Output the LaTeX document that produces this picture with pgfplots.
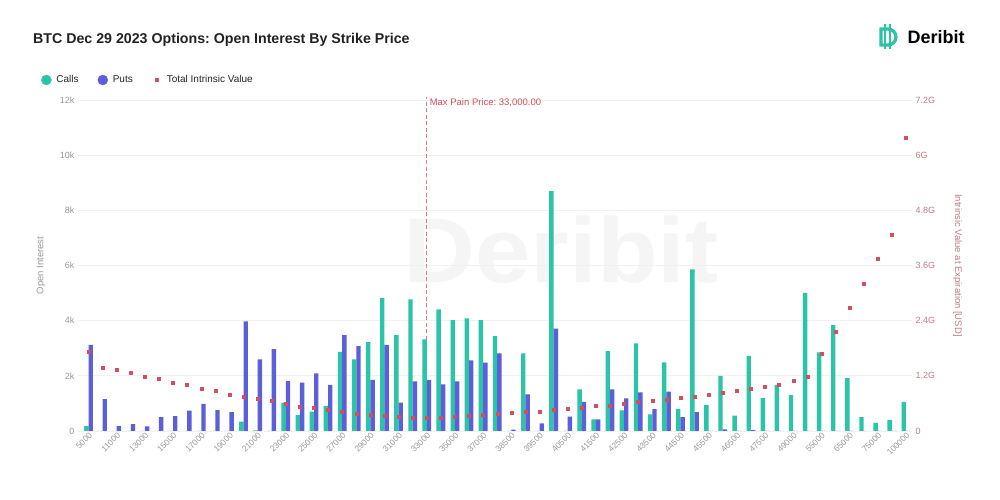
\documentclass[border=0pt]{standalone}
\usepackage{fontspec}
\setmainfont{Liberation Sans}
\usepackage{pgfplots}
\pgfplotsset{compat=1.18}
\usepackage{pgfplotstable}
\definecolor{callc}{HTML}{2BC4A6}
\definecolor{putc}{HTML}{5B5FDA}
\definecolor{ivc}{HTML}{D24F5E}
\definecolor{painc}{HTML}{E07A80}
\definecolor{tickc}{HTML}{9A9A9A}
\definecolor{rtickc}{HTML}{C47B86}
\definecolor{gridc}{HTML}{F1F1F1}
\definecolor{titlec}{HTML}{222222}

\pgfplotstableread{
idx strike calls puts iv
0 5000 180 3120 1.73
1 10000 0 1160 1.38
2 11000 0 180 1.33
3 12000 0 250 1.26
4 13000 0 170 1.19
5 14000 0 500 1.13
6 15000 0 540 1.06
7 16000 0 740 1.01
8 17000 0 980 0.93
9 18000 0 760 0.88
10 19000 0 680 0.80
11 20000 340 3970 0.75
12 21000 20 2600 0.70
13 22000 0 2970 0.65
14 23000 1030 1810 0.59
15 24000 580 1750 0.53
16 25000 700 2090 0.50
17 26000 910 1670 0.46
18 27000 2870 3480 0.43
19 28000 2600 3080 0.38
20 29000 3220 1850 0.35
21 30000 4830 3120 0.34
22 31000 3480 1030 0.31
23 32000 4770 1800 0.30
24 33000 3320 1850 0.29
25 34000 4410 1690 0.29
26 35000 4020 1800 0.31
27 36000 4080 2560 0.34
28 37000 4020 2480 0.36
29 38000 3440 2810 0.38
30 38500 0 50 0.39
31 39000 2810 1330 0.41
32 39500 0 280 0.43
33 40000 8700 3710 0.46
34 40500 0 520 0.48
35 41000 1510 1060 0.50
36 41500 420 420 0.54
37 42000 2900 1510 0.55
38 42500 750 1180 0.59
39 43000 3180 1400 0.63
40 43500 600 790 0.65
41 44000 2490 1430 0.68
42 44500 800 500 0.72
43 45000 5860 680 0.75
44 45500 950 0 0.80
45 46000 2000 60 0.84
46 46500 560 0 0.88
47 47000 2720 30 0.92
48 47500 1200 0 0.96
49 48000 1670 0 1.01
50 49000 1300 0 1.09
51 50000 5010 0 1.19
52 55000 2850 0 1.68
53 60000 3840 0 2.17
54 65000 1920 0 2.69
55 70000 500 0 3.20
56 75000 290 0 3.74
57 80000 400 0 4.27
58 100000 1060 0 6.39
}\datatable

\begin{document}
\frenchspacing
\begin{tikzpicture}[x=1pt,y=1pt]
\fill[white] (0,0) rectangle (1000,500);
\path[use as bounding box] (0,0) rectangle (1000,500);
% watermark
\node[anchor=west, text=black!4, font=\fontsize{92}{92}\selectfont\bfseries, xscale=1.08] at (400,250) {Deribit};
% title
\node[anchor=west, inner sep=0pt, text=titlec, font=\fontsize{14.2}{17}\selectfont\bfseries] at (33,460) {BTC Dec 29 2023 Options: Open Interest By Strike Price};
% logo
\draw[callc, line width=3.2pt] (881,471) -- (888,471) arc (90:-90:8) -- (881,455) -- cycle;
\draw[callc, line width=2.4pt] (885,476) -- (885,451);
\draw[callc, line width=2.4pt] (890,476) -- (890,451);
\node[anchor=west, text=black, font=\fontsize{18}{20}\selectfont\bfseries] at (904,462.5) {Deribit};

\begin{axis}[
  at={(78pt,69pt)}, anchor=south west,
  scale only axis, width=834pt, height=331pt,
  xmin=-0.745, xmax=58.43, ymin=0, ymax=12000,
  clip=false,
  scaled y ticks=false,
  axis line style={draw=none},
  major tick length=0pt,
  xtick={0,2,...,58},
  xticklabels={5000,11000,13000,15000,17000,19000,21000,23000,25000,27000,29000,31000,33000,35000,37000,38500,39500,40500,41500,42500,43500,44500,45500,46500,47500,49000,55000,65000,75000,100000},
  x tick label style={rotate=45, anchor=north east, font=\fontsize{8.4}{10}\selectfont, text=tickc, inner sep=0.5pt},
  ytick={0,2000,4000,6000,8000,10000,12000},
  yticklabels={0,2k,4k,6k,8k,10k,12k},
  y tick label style={font=\fontsize{9}{10}\selectfont, text=tickc},
  ymajorgrids, grid style={gridc, line width=0.8pt},
  ylabel={Open Interest},
  every axis y label/.style={at={(axis description cs:-0.0444,0.5)}, rotate=90, anchor=center, font=\fontsize{9.5}{11}\selectfont, text=tickc},
]
\draw[painc, line width=0.8pt, dash pattern=on 4pt off 2.5pt] (axis cs:24,0) -- (axis cs:24,12120);
\node[anchor=west, text=ivc, font=\fontsize{9.5}{11}\selectfont, inner sep=0pt] at (axis cs:24.2,11900) {Max Pain Price: 33,000.00};
\addplot[ybar, bar width=4.4pt, bar shift=-2.2pt, fill=callc, draw=none] table[x=idx, y=calls] {\datatable};
\addplot[ybar, bar width=4.4pt, bar shift=2.2pt, fill=putc, draw=none] table[x=idx, y=puts] {\datatable};
\end{axis}

\begin{axis}[
  at={(78pt,69pt)}, anchor=south west,
  scale only axis, width=834pt, height=331pt,
  xmin=-0.745, xmax=58.43, ymin=0, ymax=7.2,
  axis y line*=right, hide x axis,
  axis line style={draw=none},
  major tick length=0pt,
  ytick={0,1.2,2.4,3.6,4.8,6,7.2},
  yticklabels={0,1.2G,2.4G,3.6G,4.8G,6G,7.2G},
  y tick label style={font=\fontsize{9}{10}\selectfont, text=rtickc, anchor=west},
  ylabel={Intrinsic Value at Expiration [USD]},
  every axis y label/.style={at={(axis description cs:1.0546,0.5)}, rotate=-90, anchor=center, font=\fontsize{9.5}{11}\selectfont, text=rtickc},
  legend columns=3,
  legend style={at={(axis description cs:-0.048,1.0604)}, anchor=west, draw=none, fill=none, font=\fontsize{10}{12}\selectfont, text=black!85, /tikz/every even column/.append style={column sep=17pt}},
  legend cell align=left,
]
\addlegendimage{legend image code/.code={\path[draw=none,fill=none] (0pt,0pt) rectangle (13pt,0pt); \fill[callc] (5pt,0pt) circle (5pt);}}
\addlegendentry{Calls}
\addlegendimage{legend image code/.code={\path[draw=none,fill=none] (0pt,0pt) rectangle (13pt,0pt); \fill[putc] (5pt,0pt) circle (5pt);}}
\addlegendentry{Puts}
\addplot[only marks, mark=square*, mark size=1.5pt, mark options={fill=ivc, draw=none}, ivc,
  legend image code/.code={\path[draw=none,fill=none] (0pt,0pt) rectangle (13pt,0pt); \fill[ivc] (3.5pt,-1.5pt) rectangle (6.5pt,1.5pt);}] table[x=idx, y=iv] {\datatable};
\addlegendentry{Total Intrinsic Value}
\end{axis}
\end{tikzpicture}
\end{document}
